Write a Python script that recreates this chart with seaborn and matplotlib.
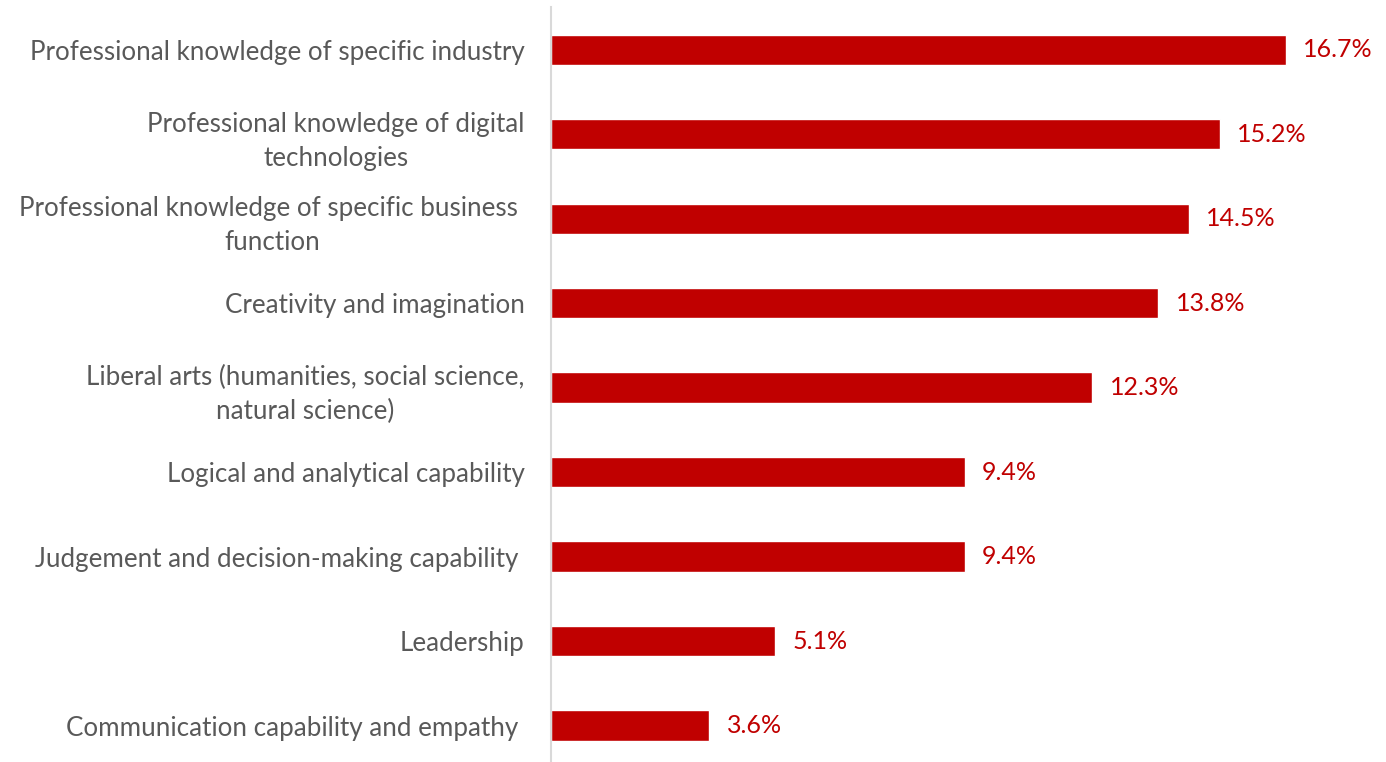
import matplotlib
matplotlib.use("Agg")
import matplotlib.pyplot as plt
import seaborn as sns
import pandas as pd

skills = [
    "Professional knowledge of specific industry",
    "Professional knowledge of digital\ntechnologies",
    "Professional knowledge of specific business \nfunction",
    "Creativity and imagination",
    "Liberal arts (humanities, social science,\nnatural science)",
    "Logical and analytical capability",
    "Judgement and decision-making capability ",
    "Leadership",
    "Communication capability and empathy ",
]
shares = [16.7, 15.2, 14.5, 13.8, 12.3, 9.4, 9.4, 5.1, 3.6]
share_labels = ["16.7%", "15.2%", "14.5%", "13.8%", "12.3%", "9.4%", "9.4%", "5.1%", "3.6%"]

RED = "#C00000"
GREY_TEXT = "#595959"

sns.set_theme(style="white")
plt.rcParams["font.family"] = ["Lato", "DejaVu Sans"]

df = pd.DataFrame({"skill": skills, "share": shares})

fig = plt.figure(figsize=(13.86, 7.62), dpi=100)
ax = fig.add_axes([551 / 1386, 0.0, 1 - 551 / 1386, 1 - 7.5 / 762])

sns.barplot(data=df, x="share", y="skill", color=RED, saturation=1,
            width=0.36, ax=ax, orient="h")

ax.set_xlim(0, 18.98)
ax.set_ylim(8.43, -0.5)
ax.set_xlabel("")
ax.set_ylabel("")
ax.set_xticks([])
ax.tick_params(axis="y", length=0, pad=19, labelsize=18.7, labelcolor=GREY_TEXT)
for lbl in ax.get_yticklabels():
    lbl.set_multialignment("center")
    lbl.set_linespacing(1.45)

for side in ("top", "right", "bottom"):
    ax.spines[side].set_visible(False)
ax.spines["left"].set_color("#D9D9D9")
ax.spines["left"].set_linewidth(1.5)

for i, (v, txt) in enumerate(zip(shares, share_labels)):
    ax.annotate(txt, xy=(v, i), xytext=(12.5, 0), textcoords="offset points",
                va="center", ha="left", color=RED, fontsize=18)

fig.savefig("out.png", dpi=100)
